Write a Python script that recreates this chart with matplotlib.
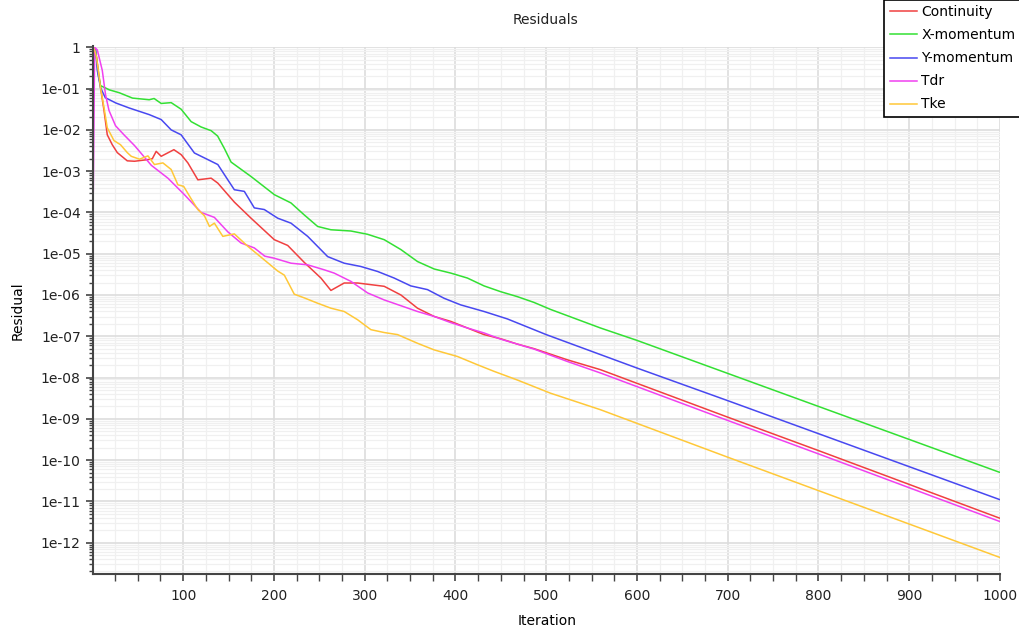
import numpy as np
import matplotlib
matplotlib.use("Agg")
import matplotlib.pyplot as plt
from matplotlib.ticker import MultipleLocator, LogLocator, FuncFormatter, NullFormatter

# iteration / log10(residual)
it_cont = [1, 3, 4.6, 9, 12.8, 16.4, 21.9, 27.4, 38.4, 46.4, 61.2, 66, 70.3, 75.8, 89.8, 97.8, 105.2, 116.2,
           130.8, 138.2, 156.4, 174.8, 200.4, 215.2, 233.4, 251.8, 262.8, 277.4, 292.2, 321.5, 339.9, 358.2,
           376.5, 394.9, 413.2, 431.5, 449.8, 468.2, 486.5, 523.2, 559.8, 600, 700, 800, 900, 1000]
lg_cont = [0.0, -0.1, -0.25, -0.98, -1.53, -2.12, -2.36, -2.55, -2.75, -2.76, -2.72, -2.70, -2.52, -2.64, -2.48,
           -2.60, -2.80, -3.21, -3.17, -3.29, -3.75, -4.14, -4.66, -4.80, -5.21, -5.59, -5.89, -5.71, -5.71,
           -5.79, -6.00, -6.32, -6.52, -6.64, -6.80, -6.96, -7.06, -7.19, -7.30, -7.57, -7.81, -8.14, -8.96,
           -9.77, -10.59, -11.41]

it_xmom = [1, 3.5, 6.5, 9, 14, 18.6, 29.6, 44.2, 62.6, 68, 75.8, 86.8, 97.8, 108.8, 119.8, 130.9, 138, 145.4,
           152.8, 174.8, 200.5, 218.8, 233.4, 248.2, 262.8, 284.8, 303.2, 321.5, 339.9, 358.2, 376.5, 394.9,
           413.2, 431.5, 449.8, 468.2, 486.5, 504.8, 559.8, 600, 700, 800, 900, 1000]
lg_xmom = [0.0, -0.05, -0.66, -0.93, -0.98, -1.03, -1.10, -1.23, -1.27, -1.24, -1.36, -1.34, -1.50, -1.80,
           -1.93, -2.02, -2.15, -2.45, -2.78, -3.13, -3.57, -3.77, -4.06, -4.34, -4.42, -4.45, -4.53, -4.66,
           -4.90, -5.19, -5.37, -5.47, -5.59, -5.78, -5.92, -6.04, -6.18, -6.35, -6.80, -7.10, -7.90, -8.70,
           -9.50, -10.30]

it_ymom = [1, 3.5, 5.4, 9, 14.2, 26, 40.6, 62.6, 75.8, 86.8, 97.8, 112.4, 127.2, 138.2, 149.2, 156.4, 167.4,
           178.4, 189.4, 204.2, 218.8, 237.2, 259.2, 277.4, 295.8, 314.2, 332.5, 350.8, 369.2, 387.5, 405.8,
           431.5, 457.2, 486.5, 500, 600, 700, 800, 900, 1000]
lg_ymom = [0.0, -0.05, -0.56, -0.98, -1.22, -1.35, -1.47, -1.63, -1.75, -2.00, -2.12, -2.56, -2.72, -2.84,
           -3.21, -3.45, -3.49, -3.89, -3.93, -4.14, -4.26, -4.58, -5.07, -5.23, -5.31, -5.43, -5.59, -5.78,
           -5.87, -6.08, -6.24, -6.40, -6.58, -6.84, -6.96, -7.77, -8.56, -9.36, -10.16, -10.96]

it_tdr = [1, 2.5, 5.4, 10.9, 14.5, 18.3, 25.5, 34.8, 46.4, 65.0, 83.2, 101.4, 119.8, 134.4, 149.2, 163.8, 178.4,
          190, 200.4, 218.8, 237.2, 255.4, 266.4, 284.8, 303.2, 321.5, 339.9, 358.2, 376.5, 394.9, 413.2, 431.5,
          449.8, 486.5, 523.2, 559.8, 600, 700, 800, 900, 1000]
lg_tdr = [-3.5, 0.0, -0.06, -0.56, -1.15, -1.53, -1.90, -2.12, -2.38, -2.86, -3.17, -3.57, -4.00, -4.12, -4.47,
          -4.74, -4.86, -5.06, -5.11, -5.23, -5.27, -5.39, -5.47, -5.67, -5.95, -6.12, -6.26, -6.40, -6.52,
          -6.67, -6.80, -6.92, -7.07, -7.31, -7.61, -7.89, -8.22, -9.04, -9.85, -10.67, -11.49]

it_tke = [1, 3, 4.6, 9, 12.8, 16.4, 23.8, 31.0, 38.4, 42.8, 51.9, 61.2, 68.4, 77.7, 86.8, 94.2, 100.6, 108.8,
          116.2, 123.4, 129.0, 134.4, 143.7, 156.4, 171.2, 189.4, 204.2, 211.5, 222.4, 233.4, 248.2, 262.8,
          277.4, 292.2, 306.8, 321.5, 336.2, 358.2, 376.5, 402.2, 424.2, 442.5, 468.2, 504.8, 559.8, 600, 700,
          800, 900, 1000]
lg_tke = [0.0, -0.1, -0.25, -0.98, -1.46, -1.95, -2.26, -2.36, -2.55, -2.64, -2.71, -2.63, -2.84, -2.80, -2.96,
          -3.33, -3.37, -3.67, -3.93, -4.08, -4.34, -4.26, -4.58, -4.52, -4.82, -5.15, -5.42, -5.52, -5.98,
          -6.07, -6.20, -6.32, -6.40, -6.60, -6.84, -6.91, -6.96, -7.17, -7.33, -7.49, -7.69, -7.85, -8.06,
          -8.38, -8.78, -9.11, -9.93, -10.74, -11.55, -12.36]

names = ["Continuity", "X-momentum", "Y-momentum", "Tdr", "Tke"]
colors = ["#f04040", "#33e033", "#4848f0", "#f040f0", "#ffc838"]
its = [it_cont, it_xmom, it_ymom, it_tdr, it_tke]
lgs = [lg_cont, lg_xmom, lg_ymom, lg_tdr, lg_tke]

plt.rcParams['font.family'] = ['DejaVu Sans']
plt.rcParams['font.size'] = 10

fig = plt.figure(figsize=(10.2, 6.32), dpi=100)
ax = fig.add_axes([93.3/1020, 1-574/632, (1000-93.3)/1020, (574-46.5)/632])

for x, l, c, n in zip(its, lgs, colors, names):
    ax.plot(x, 10**np.array(l), color=c, lw=1.1, label=n)

ax.set_yscale('log')
ax.set_xlim(1, 1000)
ax.set_ylim(10**-12.76, 10**0.02)

ax.xaxis.set_major_locator(MultipleLocator(100))
ax.xaxis.set_minor_locator(MultipleLocator(25))
ax.yaxis.set_major_locator(LogLocator(base=10, numticks=20))
ax.yaxis.set_minor_locator(LogLocator(base=10, subs=np.arange(2, 10), numticks=20))
ax.yaxis.set_minor_formatter(NullFormatter())

def yfmt(v, pos):
    e = int(round(np.log10(v)))
    if e == 0:
        return "1"
    return "1e-%02d" % (-e)
ax.yaxis.set_major_formatter(FuncFormatter(yfmt))

ax.grid(True, which='major', color='#dddddd', lw=1.2)
ax.grid(True, which='minor', color='#f0f0f0', lw=0.9)
ax.set_axisbelow(True)

for s in ['top', 'right']:
    ax.spines[s].set_visible(False)
for s in ['left', 'bottom']:
    ax.spines[s].set_color('#444444')
    ax.spines[s].set_linewidth(1.5)

ax.tick_params(which='major', direction='out', length=5, width=1.2, color='#444444', labelcolor='#222222', pad=4)
ax.tick_params(axis='y', which='minor', direction='out', length=3, width=1.0, color='#444444')
ax.tick_params(axis='x', which='minor', direction='out', length=5, width=1.0, color='#444444')
ax.tick_params(axis='x', pad=6)

ax.set_xlabel("Iteration")
ax.set_ylabel("Residual")
ax.xaxis.set_label_coords(0.5, -(614-574)/527.5)
ax.yaxis.set_label_coords(-(93.3-25)/906.7, 0.5)

fig.text(546/1020, 1-20/632, "Residuals", ha='center', va='center', fontsize=10, color='#222222')

leg = fig.legend(loc='lower left', bbox_to_anchor=(884/1020, 1-117/632), fontsize=10,
                 handlelength=2.0, handletextpad=0.3, labelspacing=0.65, borderaxespad=0,
                 fancybox=False, framealpha=1, edgecolor='black', borderpad=0.4)
leg.get_frame().set_linewidth(1.2)

fig.savefig("out.png", dpi=100)
